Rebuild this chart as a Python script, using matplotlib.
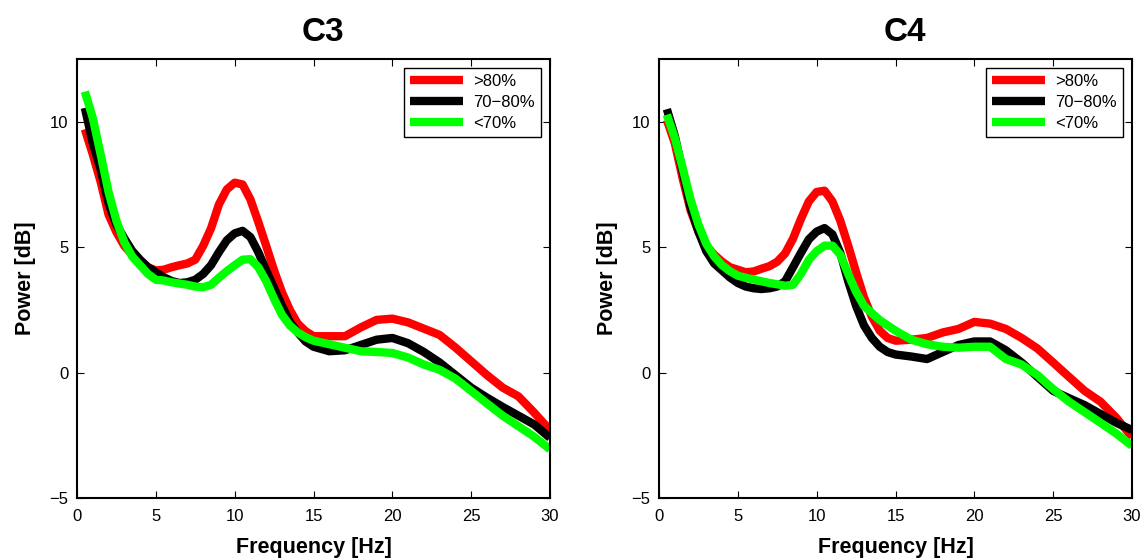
import numpy as np
import matplotlib
matplotlib.use("Agg")
import matplotlib.pyplot as plt

plt.rcParams['font.family'] = ['Liberation Sans', 'DejaVu Sans']

freq = [0.5, 1, 1.5, 2, 2.5, 3, 3.5, 4, 4.5, 5, 5.5, 6, 6.5, 7, 7.5, 8, 8.5, 9, 9.5,
        10, 10.5, 11, 11.5, 12, 12.5, 13, 13.5, 14, 14.5, 15, 16, 17, 18, 19, 20,
        21, 22, 23, 24, 25, 26, 27, 28, 29, 30]

c3_high = [9.7, 8.7, 7.6, 6.3, 5.6, 5.05, 4.7, 4.4, 4.2, 4.07, 4.1, 4.2, 4.28, 4.35, 4.5,
           5.05, 5.75, 6.7, 7.3, 7.57, 7.5, 6.9, 6.0, 5.05, 4.07, 3.2, 2.5, 1.95, 1.65,
           1.45, 1.45, 1.45, 1.8, 2.1, 2.15, 2.0, 1.75, 1.5, 1.0, 0.45, -0.1, -0.6,
           -0.95, -1.6, -2.3]
c3_mid = [10.55, 9.15, 8.1, 6.75, 5.9, 5.35, 4.85, 4.5, 4.2, 4.0, 3.8, 3.65, 3.57, 3.6,
          3.7, 3.93, 4.28, 4.8, 5.27, 5.55, 5.65, 5.4, 4.8, 4.07, 3.36, 2.66, 2.02, 1.6,
          1.24, 1.03, 0.85, 0.89, 1.1, 1.31, 1.38, 1.17, 0.82, 0.4, -0.1, -0.6, -1.0,
          -1.37, -1.72, -2.07, -2.6]
c3_low = [11.2, 10.15, 8.7, 7.2, 6.05, 5.2, 4.63, 4.28, 3.93, 3.7, 3.67, 3.6, 3.55, 3.5,
          3.43, 3.4, 3.5, 3.78, 4.04, 4.28, 4.5, 4.52, 4.2, 3.64, 2.94, 2.3, 1.88, 1.6,
          1.41, 1.27, 1.13, 0.99, 0.85, 0.82, 0.78, 0.6, 0.32, 0.11, -0.24, -0.73,
          -1.23, -1.72, -2.14, -2.56, -3.06]

c4_high = [10.07, 9.15, 7.74, 6.47, 5.62, 5.06, 4.7, 4.42, 4.2, 4.1, 4.0, 4.03, 4.14, 4.24,
           4.42, 4.75, 5.34, 6.12, 6.82, 7.2, 7.25, 6.82, 6.05, 5.06, 4.0, 3.0, 2.23,
           1.67, 1.38, 1.27, 1.31, 1.38, 1.6, 1.74, 2.02, 1.95, 1.74, 1.38, 0.96, 0.4,
           -0.17, -0.73, -1.16, -1.8, -2.57]
c4_mid = [10.5, 9.44, 8.02, 6.6, 5.62, 4.84, 4.35, 4.07, 3.79, 3.57, 3.43, 3.36, 3.33, 3.36,
          3.43, 3.64, 4.2, 4.77, 5.31, 5.62, 5.76, 5.51, 4.77, 3.64, 2.66, 1.88, 1.38,
          1.03, 0.82, 0.72, 0.64, 0.54, 0.82, 1.1, 1.24, 1.24, 0.89, 0.4, -0.17, -0.73,
          -1.02, -1.3, -1.65, -2.0, -2.29]
c4_low = [10.28, 9.36, 8.16, 6.9, 5.9, 5.13, 4.63, 4.28, 4.04, 3.86, 3.78, 3.71, 3.64, 3.57,
          3.52, 3.46, 3.5, 3.93, 4.49, 4.84, 5.06, 5.06, 4.7, 3.93, 3.22, 2.66, 2.37,
          2.09, 1.88, 1.67, 1.31, 1.13, 1.03, 0.99, 1.03, 1.03, 0.54, 0.32, -0.1, -0.66,
          -1.16, -1.58, -2.0, -2.43, -2.92]

labels = ['>80%', '70\u221280%', '<70%']
colors = ['#ff0000', '#000000', '#00ff00']
panels = [('C3', [c3_high, c3_mid, c3_low]), ('C4', [c4_high, c4_mid, c4_low])]

fig = plt.figure(figsize=(11.43, 5.58), dpi=100)
lefts = [77 / 1143, 659 / 1143]

for left, (name, series) in zip(lefts, panels):
    ax = fig.add_axes([left, 60 / 558, 473 / 1143, 439 / 558])
    for vals, c, lab in zip(series, colors, labels):
        ax.plot(freq, vals, color=c, lw=6, label=lab, solid_capstyle='butt')
    ax.set_xlim(0, 30)
    ax.set_ylim(-5, 12.5)
    ax.set_xticks([0, 5, 10, 15, 20, 25, 30])
    ax.set_yticks([-5, 0, 5, 10])
    ax.tick_params(direction='in', top=True, right=True, labelsize=12,
                   length=5, width=0.8)
    ax.tick_params(axis='x', pad=8)
    ax.tick_params(axis='y', pad=6)
    for sp in ax.spines.values():
        sp.set_linewidth(1.5)
    ax.set_title(name, fontsize=24, fontweight='bold', pad=13, x=0.52)
    ax.set_xlabel('Frequency [Hz]', fontsize=15.5, fontweight='bold', labelpad=9)
    ax.set_ylabel('Power [dB]', fontsize=15.5, fontweight='bold', labelpad=10)
    leg = ax.legend(loc='upper right', fontsize=12, fancybox=False, framealpha=1,
                    edgecolor='black', handlelength=3.2, borderaxespad=0.55,
                    labelspacing=0.36, borderpad=0.35, handletextpad=0.6)
    leg.get_frame().set_linewidth(1.0)

fig.savefig('out.png', dpi=100)
